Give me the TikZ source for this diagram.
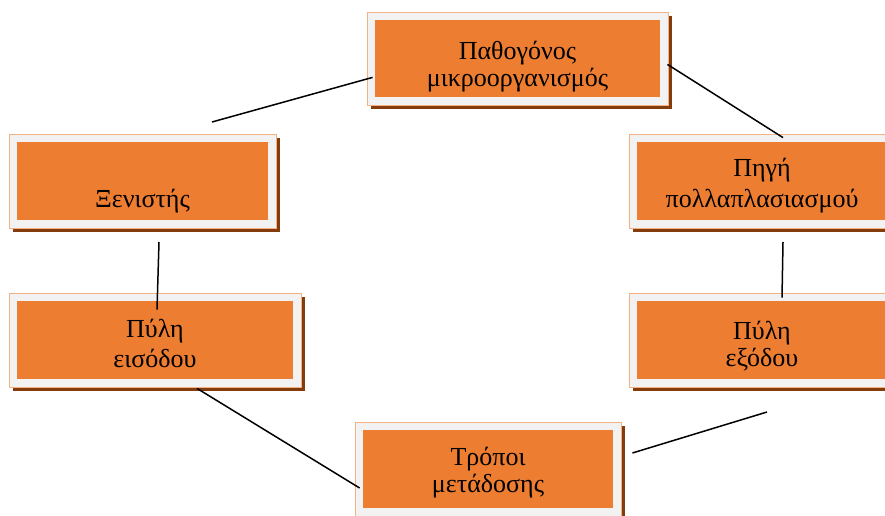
\documentclass[tikz,border=0pt]{standalone}
\usepackage{fontspec}
\setmainfont{Liberation Serif}
\usetikzlibrary{calc,shadows}
\definecolor{boxorange}{HTML}{ED7D31}
\definecolor{framegrey}{HTML}{F2F2F2}
\definecolor{shadowbrown}{HTML}{843C0C}
\definecolor{peach}{HTML}{F4B183}
\tikzset{
  gbox/.style={rectangle, inner sep=0pt, fill=framegrey, draw=peach, line width=0.8pt,
    drop shadow={shadow xshift=4pt, shadow yshift=-4pt, fill=shadowbrown, opacity=1},
    path picture={\fill[boxorange] ([shift={(8pt,-8pt)}]path picture bounding box.north west) rectangle ([shift={(-8pt,8pt)}]path picture bounding box.south east);}},
  lbl/.style={inner sep=0pt, anchor=base, font=\fontsize{26}{28}\selectfont},
  conn/.style={draw=black, line width=1.5pt}
}
\newcommand{\twolines}[3]{\begin{tabular}[t]{@{}c@{}}#2\\[#1]#3\end{tabular}}
\begin{document}
\begin{tikzpicture}[x=1pt,y=1pt]
\useasboundingbox (0,0) rectangle (885,515);
% boxes (y = 515 - pixel row)
\node[gbox, minimum width=301pt, minimum height=93pt] (A) at (517.5,456.5) {};
\node[gbox, minimum width=267pt, minimum height=94pt] (B) at (142.5,334) {};
\node[gbox, minimum width=266pt, minimum height=94pt] (C) at (762,334) {};
\node[gbox, minimum width=292pt, minimum height=94pt] (D) at (155,175) {};
\node[gbox, minimum width=266pt, minimum height=94pt] (E) at (762,175) {};
\node[gbox, minimum width=266pt, minimum height=94pt] (F) at (488,46) {};
% labels
\node[lbl] (tA) at (517.5,455) {\twolines{-1pt}{Παθογόνος}{μικροοργανισμός}};
\node[lbl] (tB) at (142.5,308) {Ξενιστής};
\node[lbl] (tC) at (762,338) {\twolines{2pt}{Πηγή}{πολλαπλασιασμού}};
\node[lbl] (tD) at (155,178) {\twolines{2pt}{Πύλη}{εισόδου}};
\node[lbl] (tE) at (762,176) {\twolines{-1pt}{Πύλη}{εξόδου}};
\node[lbl] (tF) at (488,50) {\twolines{-1pt}{Τρόποι}{μετάδοσης}};
% free ends
\coordinate (f1) at (212,393);
\coordinate (f3) at (159,273);
\coordinate (f4) at (783,273);
\coordinate (f6) at (767,103);
% connectors
\draw[conn] (f1) -- ($(A.south west)+(6,28)$);
\draw[conn] ($(A.south east)+(-1,41)$) -- ($(C.north)+(21,-4)$);
\draw[conn] (f3) -- ($(D.north)+(2,-17)$);
\draw[conn] (f4) -- ($(E.north)+(20,-5)$);
\draw[conn] ($(D.south)+(42,-1)$) -- ($(F.west)+(5,-19)$);
\draw[conn] ($(F.east)+(11,16)$) -- (f6);
\end{tikzpicture}
\end{document}
